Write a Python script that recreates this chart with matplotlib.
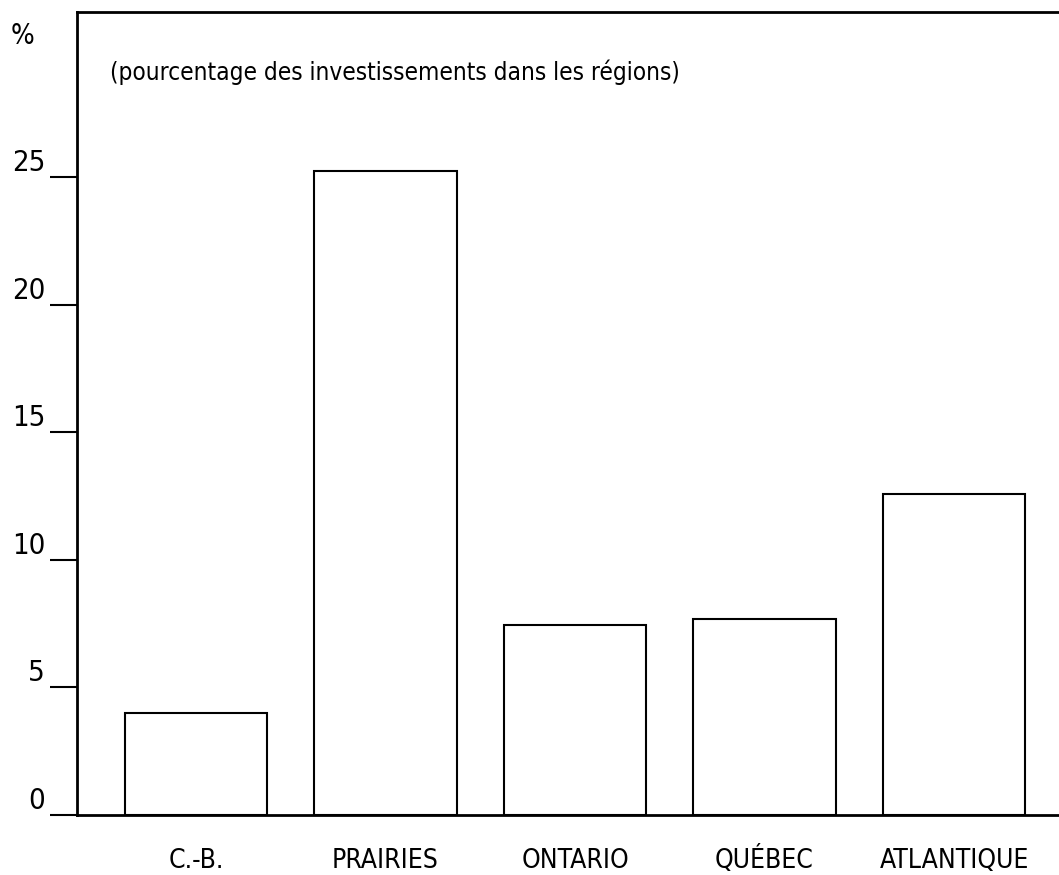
import matplotlib
matplotlib.use("Agg")
import matplotlib.pyplot as plt

# DATA
regions = ["C.-B.", "PRAIRIES", "ONTARIO", "QUÉBEC", "ATLANTIQUE"]
shares = [4.0, 25.25, 7.45, 7.7, 12.6]
y_ticks = [0, 5, 10, 15, 20, 25]

plt.rcParams["font.family"] = ["DejaVu Sans"]
plt.rcParams["font.stretch"] = "condensed"

fig = plt.figure(figsize=(10.59, 8.75), dpi=100)
ax = fig.add_axes([77 / 1059, 60 / 875, 982 / 1059, 803 / 875])

x = list(range(len(regions)))
ax.bar(x, shares, width=0.75, color="white", edgecolor="black", linewidth=1.5)

ax.set_xlim(-0.628, 4.554)
ax.set_ylim(0, 31.49)

# SPINES
ax.spines["right"].set_visible(False)
for s in ["left", "top", "bottom"]:
    ax.spines[s].set_linewidth(2)

# TICKS
ax.set_yticks(y_ticks)
ax.set_yticklabels([str(t) for t in y_ticks], fontsize=21)
ax.tick_params(axis="y", direction="out", length=19.5, width=1.5, pad=3.5)
for lbl in ax.get_yticklabels():
    lbl.set_verticalalignment("bottom")

ax.set_xticks(x)
ax.set_xticklabels(regions, fontsize=19)
ax.tick_params(axis="x", length=0, pad=38)
for lbl in ax.get_xticklabels():
    lbl.set_verticalalignment("baseline")

# TEXT
fig.text(22 / 1059, 1 - 36 / 875, "%", fontsize=20, ha="center", va="center")
ax.text(0.034, 0.925, "(pourcentage des investissements dans les régions)",
        transform=ax.transAxes, fontsize=17.5, ha="left", va="center")

fig.savefig("out.png", dpi=100)
